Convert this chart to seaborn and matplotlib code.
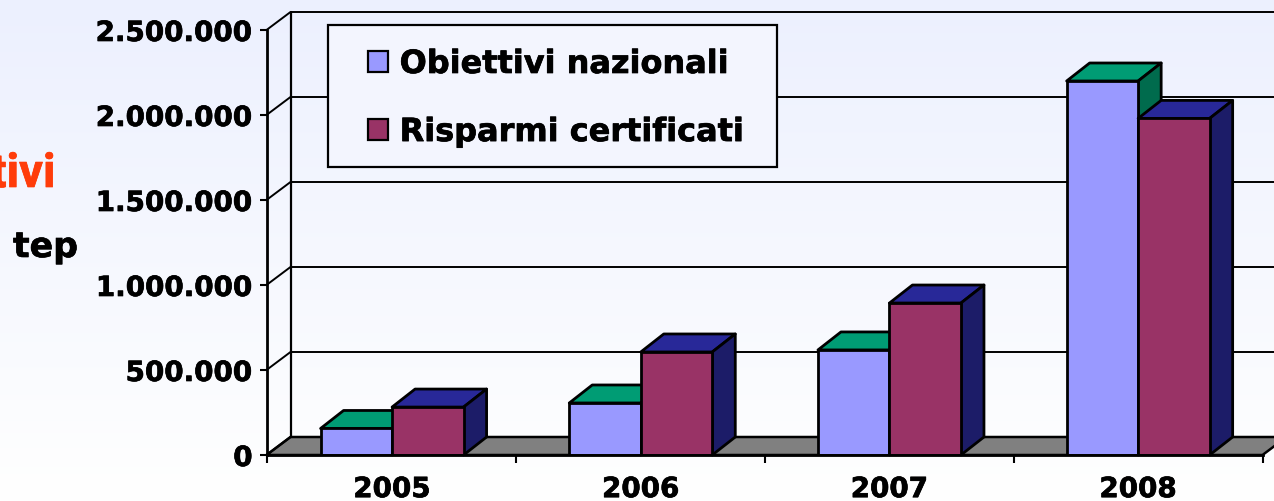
import numpy as np
import pandas as pd
import seaborn as sns
import matplotlib.pyplot as plt
import matplotlib.patheffects as pe
from matplotlib.patches import Polygon, Rectangle

# data
years = ["2005", "2006", "2007", "2008"]
obiettivi = [156000, 306000, 618000, 2200000]
risparmi = [282000, 606000, 894000, 1980000]
series_names = ["Obiettivi nazionali", "Risparmi certificati"]
y_ticks = [0, 500000, 1000000, 1500000, 2000000, 2500000]
y_labels = ["0", "500.000", "1.000.000", "1.500.000", "2.000.000", "2.500.000"]

W, H = 1274, 502
sns.set_theme(style="white")
plt.rcParams["font.family"] = ["DejaVu Sans"]
plt.rcParams["font.weight"] = "bold"

df = pd.DataFrame({
    "anno": years * 2,
    "tep": obiettivi + risparmi,
    "serie": [series_names[0]] * 4 + [series_names[1]] * 4,
})

fig = plt.figure(figsize=(W / 100, H / 100), dpi=100)

# heavier strokes, the original font is fatter than DejaVu bold
fat = [pe.withStroke(linewidth=0.5, foreground="black")]

# background gradient
bg = fig.add_axes([0, 0, 1, 1], zorder=-1)
grad = np.linspace(0, 1, 256).reshape(-1, 1)
top = np.array([236, 240, 254]) / 255
rgb = (top + (1 - top) * grad[..., None])
bg.imshow(rgb, aspect="auto", extent=[0, 1, 0, 1])
bg.axis("off")

# axes box = front plane of the 3d chart
ax = fig.add_axes([266.5 / W, 1 - 456 / H, 996 / W, 425 / H])
ax.patch.set_visible(False)

sns.barplot(data=df, x="anno", y="tep", hue="serie", order=years, width=0.575, gap=0,
            palette=["#9999FF", "#993366"], saturation=1, edgecolor="black",
            linewidth=2, ax=ax, legend=False)

ax.set_xlim(-0.505, 3.5)
ax.set_ylim(0, 2500000)
xmin, xmax = ax.get_xlim()

# depth of the fake 3d, in data units
ux = (xmax - xmin) / 996
uy = 2500000 / 425
dx, dy = 24 * ux, 18 * uy
bar_dx = 23 * ux

# floor
ax.add_patch(Polygon([(xmin, 0), (xmax, 0), (xmax + dx, dy), (xmin + dx, dy)], closed=True,
                     facecolor="#808080", edgecolor="black", lw=1.8, clip_on=False, zorder=1))

# back wall + gridlines
for t in y_ticks[1:]:
    ax.plot([xmin, xmin + dx, xmax + dx], [t, t + dy, t + dy], color="black", lw=1.4,
            clip_on=False, zorder=1)
ax.plot([xmin + dx, xmin + dx], [dy, 2500000 + dy], color="black", lw=1.6, clip_on=False, zorder=1)
ax.plot([xmin, xmin + dx], [0, dy], color="black", lw=1.6, clip_on=False, zorder=1.5)

# top and side of each bar, from the bars seaborn drew
top_cols = ["#009C74", "#282898"]
side_cols = ["#006B4D", "#1C1C68"]
for i, cont in enumerate(ax.containers):
    z = 2 + 2 * i
    for b in cont:
        x0, w, h = b.get_x(), b.get_width(), b.get_height()
        ax.add_patch(Polygon([(x0, h), (x0 + w, h), (x0 + w + bar_dx, h + dy), (x0 + bar_dx, h + dy)],
                             closed=True, facecolor=top_cols[i], edgecolor="black", lw=2,
                             clip_on=False, zorder=z, joinstyle="round"))
        ax.add_patch(Polygon([(x0 + w, 0), (x0 + w + bar_dx, dy), (x0 + w + bar_dx, h + dy), (x0 + w, h)],
                             closed=True, facecolor=side_cols[i], edgecolor="black", lw=2,
                             clip_on=False, zorder=z, joinstyle="round"))
        b.set_zorder(z + 1)

# axes
ax.set_xlabel("")
ax.set_ylabel("")
sns.despine(ax=ax)
for s in ["left", "bottom"]:
    ax.spines[s].set_linewidth(2)
    ax.spines[s].set_color("black")
    ax.spines[s].set_zorder(8)
ax.set_yticks(y_ticks, y_labels, fontsize=20, fontweight="bold", color="black")
ax.tick_params(axis="y", length=5, width=1.5, pad=5, left=True, color="black")
ax.set_xticks(range(4), years, fontsize=20, fontweight="bold", color="black")
ax.tick_params(axis="x", which="major", length=0, pad=14.5)
ax.set_xticks([xmin, 0.5, 1.5, 2.5, xmax], minor=True)
ax.tick_params(axis="x", which="minor", length=5.5, width=1.5, bottom=True, color="black")
for lab in ax.get_xticklabels() + ax.get_yticklabels():
    lab.set_path_effects(fat)

# legend box and legend
fig_px = lambda x, y: (x / W, 1 - y / H)
ax.add_patch(Rectangle(fig_px(328, 167.5), 449 / W, 142 / H, transform=fig.transFigure, clip_on=False,
                       facecolor="#F3F5FE", edgecolor="black", lw=1.6, zorder=7))
handles = [Rectangle((0, 0), 1, 1, facecolor=c, edgecolor="black", lw=1.6) for c in ["#9999FF", "#993366"]]
leg = ax.legend(handles, series_names, loc="upper left", bbox_to_anchor=fig_px(368, 50),
                bbox_transform=fig.transFigure, frameon=False, fontsize=23, borderpad=0,
                borderaxespad=0, handlelength=0.62, handleheight=0.62, handletextpad=0.37,
                labelspacing=1.16, labelcolor="black")
leg.set_zorder(9)
for lab in leg.get_texts():
    lab.set_path_effects(fat)

# text cut off by the picture edge on the left
fig.text(55.5 / W, 1 - 175 / H, "tivi", color="#FF3C0A", fontsize=34, fontweight="bold",
         family="Roboto", ha="right", va="center", path_effects=[pe.withStroke(linewidth=0.5, foreground="#FF3C0A")])
fig.text(13 / W, 1 - 248 / H, "tep", color="black", fontsize=25, fontweight="bold",
         ha="left", va="center", path_effects=fat)

fig.savefig("out.png", dpi=100)
